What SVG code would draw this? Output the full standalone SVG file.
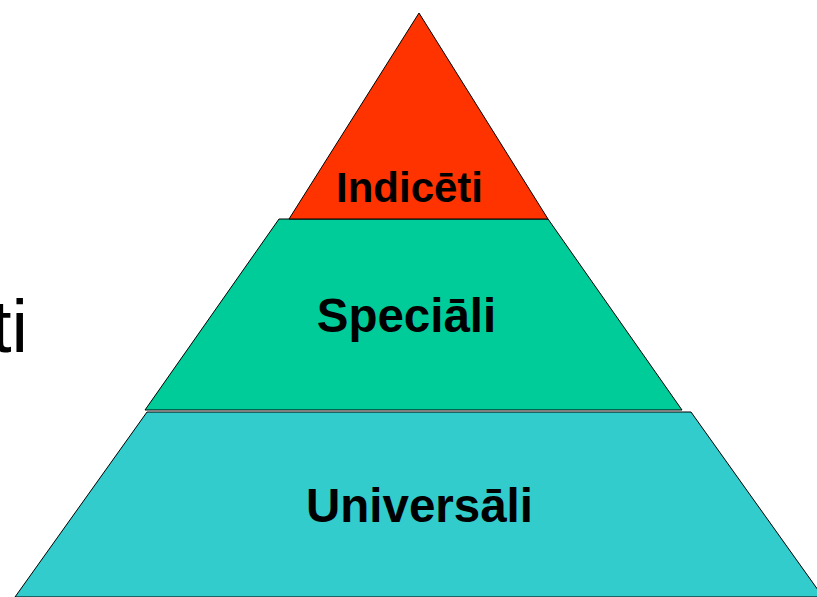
<svg xmlns="http://www.w3.org/2000/svg" width="817" height="597" viewBox="0 0 817 597">
<style>
.layer{stroke:#000;stroke-width:1}
.lbl{font-family:"Liberation Sans",Arial,sans-serif;font-weight:bold;fill:#000;text-anchor:middle}
</style>
<rect width="817" height="597" fill="#fff"/>
<text x="28" y="352" font-family="Liberation Sans, Arial, sans-serif" font-size="74" text-anchor="end" fill="#000">ti</text>
<g id="universali">
<polygon class="layer" fill="#33CCCC" points="147,412 691,412 823,597 15,597"/>
<text class="lbl" x="419.5" y="522" font-size="47.5">Universāli</text>
</g>
<g id="speciali">
<polygon class="layer" fill="#00CC99" points="279,219 548,219 682,410 145,410"/>
<text class="lbl" x="406.5" y="332" font-size="47.5">Speciāli</text>
</g>
<g id="indiceti">
<polygon class="layer" fill="#FF3300" points="419,13 548,219 289,219"/>
<text class="lbl" x="409.5" y="202" font-size="42">Indicēti</text>
</g>
<g id="connectors"/>
</svg>
